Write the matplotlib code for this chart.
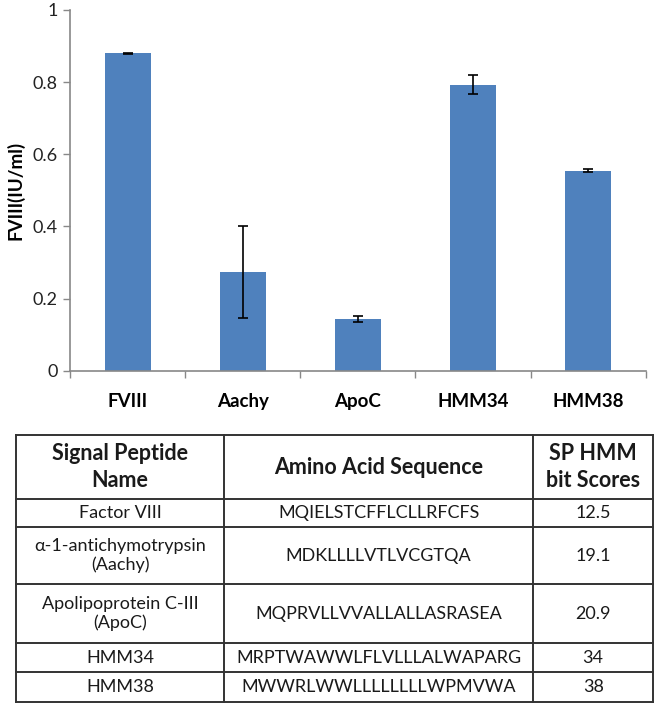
import matplotlib
matplotlib.use("Agg")
import matplotlib.pyplot as plt
import numpy as np

categories = ["FVIII", "Aachy", "ApoC", "HMM34", "HMM38"]
values = [0.880, 0.274, 0.144, 0.793, 0.555]
errors = [0.002, 0.127, 0.008, 0.026, 0.005]
yticks = [0, 0.2, 0.4, 0.6, 0.8, 1.0]
ytick_labels = ["0", "0.2", "0.4", "0.6", "0.8", "1"]
ylabel = "FVIII(IU/ml)"

table_header = ["Signal Peptide\nName", "Amino Acid Sequence", "SP HMM\nbit Scores"]
sp_names = ["Factor VIII", "\u03b1-1-antichymotrypsin\n(Aachy)", "Apolipoprotein C-III\n(ApoC)", "HMM34", "HMM38"]
sequences = ["MQIELSTCFFLCLLRFCFS", "MDKLLLLVTLVCGTQA", "MQPRVLLVVALLALLASRASEA",
             "MRPTWAWWLFLVLLLALWAPARG", "MWWRLWWLLLLLLLLWPMVWA"]
scores = ["12.5", "19.1", "20.9", "34", "38"]

plt.rcParams['font.family'] = ['Lato', 'DejaVu Sans']

W, H = 659, 705
fig = plt.figure(figsize=(W / 100, H / 100), dpi=100)

# --- bar chart ---
ax_l, ax_r, ax_b, ax_t = 70, 645.7, 370.7, 10
ax = fig.add_axes([ax_l / W, 1 - ax_b / H, (ax_r - ax_l) / W, (ax_b - ax_t) / H])
x = np.arange(len(categories))
ax.bar(x, values, width=0.40, color="#4F81BD", zorder=2)
ax.errorbar(x, values, yerr=errors, fmt="none", ecolor="black", elinewidth=1.2,
            capsize=3.4, capthick=1.2, zorder=3)
ax.set_xlim(-0.5, len(categories) - 0.5)
ax.set_ylim(0, 1)
ax.set_yticks(yticks)
ax.set_yticklabels(ytick_labels, fontsize=13, color="#222222")
ax.set_xticks(x)
ax.set_xticklabels(categories, fontsize=13.5, fontweight="bold")
ax.set_xticks(np.arange(-0.5, len(categories), 1.0), minor=True)
ax.tick_params(axis="x", which="major", length=0, pad=16)
ax.tick_params(axis="x", which="minor", length=5, color="#888888", width=1)
ax.tick_params(axis="y", length=5, color="#888888", width=1, pad=4)
for s in ["top", "right"]:
    ax.spines[s].set_visible(False)
for s in ["left", "bottom"]:
    ax.spines[s].set_color("#888888")
    ax.spines[s].set_linewidth(1.2)
ax.set_ylabel(ylabel, fontsize=13.5, fontweight="bold")
ax.yaxis.set_label_coords(-(ax_l - 24.5) / (ax_r - ax_l), 0.5)

# --- table ---
tax = fig.add_axes([0, 0, 1, 1], zorder=5)
tax.set_xlim(0, W)
tax.set_ylim(H, 0)
tax.axis("off")
col_x = [15.7, 224.3, 533, 653.3]
row_y = [435, 499, 527.3, 584.3, 643.3, 672.3, 702.3]
lc = "#333333"
for cx in col_x:
    tax.plot([cx, cx], [row_y[0], row_y[-1]], color=lc, lw=1.4, solid_capstyle="projecting")
for ry in row_y:
    tax.plot([col_x[0], col_x[-1]], [ry, ry], color=lc, lw=1.4, solid_capstyle="projecting")

def cell_text(ci, ri, txt, bold=False):
    cx = (col_x[ci] + col_x[ci + 1]) / 2
    cy = (row_y[ri] + row_y[ri + 1]) / 2
    tax.text(cx, cy, txt, ha="center", va="center",
             fontsize=15.5 if bold else 13,
             fontweight="bold" if bold else "normal", color="#1a1a1a",
             linespacing=1.35 if bold else 1.2)

for ci, t in enumerate(table_header):
    cell_text(ci, 0, t, bold=True)
for ri in range(len(sp_names)):
    cell_text(0, ri + 1, sp_names[ri])
    cell_text(1, ri + 1, sequences[ri])
    cell_text(2, ri + 1, scores[ri])

fig.savefig("out.png", dpi=100)
